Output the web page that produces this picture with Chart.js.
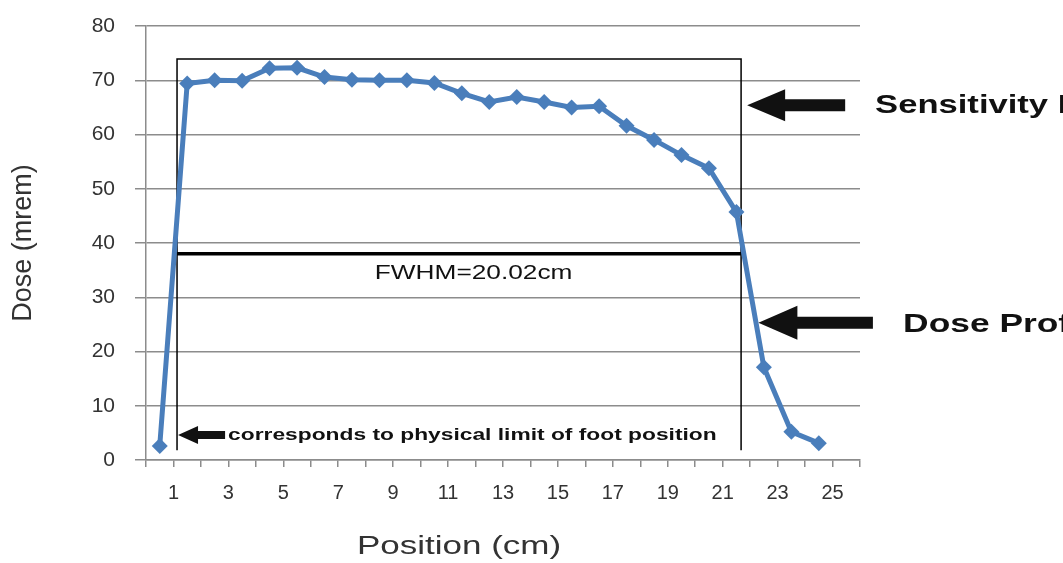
<!DOCTYPE html>
<html>
<head>
<meta charset="utf-8">
<script src="https://cdn.jsdelivr.net/npm/chart.js@4.4.1/dist/chart.umd.min.js"></script>
<style>
  html, body { margin: 0; padding: 0; background: #fff; }
  #wrap { width: 1063px; height: 563px; }
</style>
</head>
<body>
<div id="wrap"><canvas id="doseChart" width="1063" height="563"></canvas></div>
<script>
// measured dose profile
const positions = [0.5, 1.5, 2.5, 3.5, 4.5, 5.5, 6.5, 7.5, 8.5, 9.5, 10.5, 11.5, 12.5,
                   13.5, 14.5, 15.5, 16.5, 17.5, 18.5, 19.5, 20.5, 21.5, 22.5, 23.5, 24.5];
const dose = [2.6, 69.4, 70.0, 69.9, 72.2, 72.3, 70.6, 70.1, 70.0, 70.0, 69.5, 67.6, 66.0,
              66.9, 66.0, 65.0, 65.2, 61.6, 59.0, 56.2, 53.8, 45.7, 17.1, 5.2, 3.1];
const xLabelValues = [1, 3, 5, 7, 9, 11, 13, 15, 17, 19, 21, 23, 25];

// annotation anchors, in data units
const box = { left: 1.13, right: 21.67, top: 73.9, bottom: 1.8 };
const fwhmLevel = 38;

const FONT = '"Liberation Sans", Arial, sans-serif';

function wideText(ctx, str, x, y, font, sx, align) {
  ctx.save();
  ctx.font = font;
  ctx.textBaseline = 'middle';
  ctx.textAlign = align;
  ctx.translate(x, y);
  ctx.scale(sx, 1);
  ctx.fillText(str, 0, 0);
  ctx.restore();
}

function arrow(ctx, tipX, cy, headLen, headHalf, endX, shaftHalf) {
  ctx.beginPath();
  ctx.moveTo(tipX, cy);
  ctx.lineTo(tipX + headLen, cy - headHalf);
  ctx.lineTo(tipX + headLen, cy - shaftHalf);
  ctx.lineTo(endX, cy - shaftHalf);
  ctx.lineTo(endX, cy + shaftHalf);
  ctx.lineTo(tipX + headLen, cy + shaftHalf);
  ctx.lineTo(tipX + headLen, cy + headHalf);
  ctx.closePath();
  ctx.fill();
}

const overlay = {
  id: 'overlay',
  beforeDatasetsDraw(chart) {
    const { ctx, scales: { x, y } } = chart;
    const px = v => x.getPixelForValue(v);
    const py = v => y.getPixelForValue(v);
    ctx.save();
    ctx.strokeStyle = '#000';
    ctx.lineWidth = 1.5;
    ctx.beginPath();
    ctx.moveTo(px(box.left), py(box.bottom));
    ctx.lineTo(px(box.left), py(box.top));
    ctx.lineTo(px(box.right), py(box.top));
    ctx.lineTo(px(box.right), py(box.bottom));
    ctx.stroke();

    ctx.lineWidth = 3.5;
    ctx.beginPath();
    ctx.moveTo(px(box.left), py(fwhmLevel));
    ctx.lineTo(px(box.right), py(fwhmLevel));
    ctx.stroke();
    ctx.restore();
  },
  afterDraw(chart) {
    const { ctx, scales: { x, y } } = chart;
    const px = v => x.getPixelForValue(v);
    const py = v => y.getPixelForValue(v);
    ctx.save();
    ctx.fillStyle = '#111';

    // small arrow at the left edge
    arrow(ctx, px(box.left) + 1, py(4.6), 20, 9, px(2.88), 4);
    wideText(ctx, 'corresponds to physical limit of foot position', px(2.99), py(4.5),
      'bold 17px ' + FONT, 1.34, 'left');

    wideText(ctx, 'FWHM=20.02cm', px(11.93), py(34.5), '21px ' + FONT, 1.25, 'center');

    // right-hand call-outs
    arrow(ctx, px(21.89), py(65.4), 38, 16, px(25.46), 6);
    wideText(ctx, 'Sensitivity Profile', px(26.55), py(65.2), 'bold 26px ' + FONT, 1.33, 'left');
    arrow(ctx, px(22.3), py(25.3), 39, 17, px(26.47), 6);
    wideText(ctx, 'Dose Profile', px(27.57), py(24.9), 'bold 26px ' + FONT, 1.36, 'left');

    // x axis title
    ctx.fillStyle = '#333';
    wideText(ctx, 'Position (cm)', 459, 547, '25px ' + FONT, 1.4, 'center');
    ctx.restore();
  }
};

const gridGray = '#8c8c8c';

new Chart(document.getElementById('doseChart'), {
  type: 'line',
  data: {
    datasets: [{
      data: positions.map((p, i) => ({ x: p, y: dose[i] })),
      borderColor: '#4a7ebb',
      backgroundColor: '#4a7ebb',
      borderWidth: 5,
      pointStyle: 'rectRot',
      pointRadius: 8,
      pointBorderWidth: 0,
      tension: 0
    }]
  },
  options: {
    responsive: false,
    animation: false,
    layout: { padding: { left: 0, right: 203, top: 26, bottom: 0 } },
    plugins: { legend: { display: false }, tooltip: { enabled: false } },
    scales: {
      x: {
        type: 'linear',
        min: 0,
        max: 26,
        afterFit(scale) { scale.height = 103; },
        grid: { drawOnChartArea: false, drawTicks: true, tickLength: 7, color: gridGray, lineWidth: 1.5 },
        border: { color: gridGray, width: 1.5 },
        ticks: {
          stepSize: 1,
          autoSkip: false,
          maxRotation: 0,
          padding: 14,
          color: '#333',
          font: { family: FONT, size: 20 },
          callback: v => xLabelValues.includes(v) ? String(v) : ''
        }
      },
      y: {
        min: 0,
        max: 80,
        afterFit(scale) {
          scale.width = 146;
          // the label padding should not push the plot area down
          scale.paddingTop = 0;
          scale.paddingBottom = 0;
        },
        grid: { color: gridGray, lineWidth: 1.5, tickLength: 11 },
        border: { color: gridGray, width: 1.5 },
        ticks: {
          stepSize: 10,
          padding: 20,
          color: '#333',
          font: { family: FONT, size: 21 }
        },
        title: {
          display: true,
          text: 'Dose (mrem)',
          color: '#333',
          font: { family: FONT, size: 27 },
          padding: { top: 7, bottom: 0 }
        }
      }
    }
  },
  plugins: [overlay]
});
</script>
</body>
</html>
